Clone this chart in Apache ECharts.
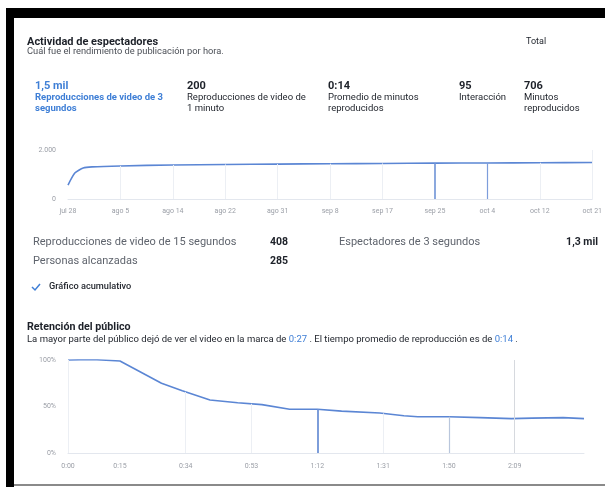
<!DOCTYPE html>
<html>
<head>
<meta charset="utf-8">
<script src="https://cdn.jsdelivr.net/npm/echarts@6/dist/echarts.min.js"></script>
<style>
html,body{margin:0;padding:0;background:#fff;}
#c{width:605px;height:487px;}
</style>
</head>
<body>
<div id="c"></div>
<script>
// ---- Chart 1: cumulative 3-second views ----
const dateLabels = ['jul 28','ago 5','ago 14','ago 22','ago 31','sep 8','sep 17','sep 25','oct 4','oct 12','oct 21'];
const viewsX = [0, 0.13, 0.29, 0.46, 1, 2, 3, 4, 5, 6, 7, 8, 9, 10];
const viewsY = [570, 1060, 1265, 1310, 1350, 1390, 1410, 1425, 1440, 1450, 1465, 1470, 1478, 1490];
const viewsMarked = [7, 8];          // dark drop lines (sep 25, oct 4)
const viewsFaint = [1, 2, 3, 4, 5, 6, 9];

// ---- Chart 2: audience retention ----
const retentionSec = [0, 7, 15, 27, 33, 41, 49, 56, 64, 72, 79, 90, 97, 101, 110, 119, 128, 134, 143, 149];
const retentionPct = [100, 100.5, 99, 75, 67, 57, 54, 52, 47, 47, 45, 43, 40, 39, 39, 38, 37, 37.5, 38, 37];
const timeTicks = [0, 15, 34, 53, 72, 91, 110, 129];
const retentionFaint = [0, 34, 53, 91];
const retentionDark = [72];
const retentionMid = [110];
const retentionCursor = [129];

// ---- header metrics ----
const metricValues = ['1,5 mil', '200', '0:14', '95', '706'];
const metricLabels = [['Reproducciones de video de 3', 'segundos'], ['Reproducciones de video de', '1 minuto'], ['Promedio de minutos', 'reproducidos'], ['Interacción', ''], ['Minutos', 'reproducidos']];
const statLabels = ['Reproducciones de video de 15 segundos', 'Personas alcanzadas', 'Espectadores de 3 segundos'];
const statValues = ['408', '285', '1,3 mil'];

function interp(xs, ys, x) {
  for (let i = 0; i < xs.length - 1; i++) {
    if (x >= xs[i] && x <= xs[i + 1]) {
      const t = (x - xs[i]) / (xs[i + 1] - xs[i]);
      return ys[i] + t * (ys[i + 1] - ys[i]);
    }
  }
  return ys[ys.length - 1];
}
function fmtSec(s) { const m = Math.floor(s / 60), r = s % 60; return m + ':' + (r < 10 ? '0' : '') + r; }

const FF = 'Roboto, "Noto Sans", sans-serif';
const BLUE = '#3f7fd6';
const LINE = '#5b86d4';
const DARK = '#1d2129';
const GRAY = '#5f646d';

function txt(text, x, y, size, color, weight, align) {
  return { type: 'text', x: x, y: y, silent: true, style: { text: text, fill: color, fontSize: size, fontWeight: weight || 'normal', fontFamily: FF, verticalAlign: 'middle', align: align || 'left' } };
}

const metricX = [35, 187, 328, 459, 524];
const graphics = [
  { type: 'rect', shape: { x: 6, y: 8, width: 599, height: 10 }, style: { fill: '#000' } },
  { type: 'rect', shape: { x: 6, y: 8, width: 8, height: 479 }, style: { fill: '#000' } },
  { type: 'rect', shape: { x: 14, y: 484, width: 591, height: 2 }, style: { fill: '#8a8a8a' } },
  txt('Actividad de espectadores', 27, 42, 11, DARK, 'bold'),
  txt('Cuál fue el rendimiento de publicación por hora.', 27, 52, 9.3, '#4b4f56'),
  txt('Total', 526, 42, 9, DARK)
];
metricValues.forEach((v, i) => {
  const c = i === 0 ? BLUE : DARK;
  graphics.push(txt(v, metricX[i], 86, 11, c, 'bold'));
  graphics.push(txt(metricLabels[i][0], metricX[i], 98, 9.5, c, i === 0 ? 'bold' : 'normal'));
  if (metricLabels[i][1]) graphics.push(txt(metricLabels[i][1], metricX[i], 109, 9.5, c, i === 0 ? 'bold' : 'normal'));
});
graphics.push(txt(statLabels[0], 33, 242, 11, GRAY));
graphics.push(txt(statLabels[1], 33, 261, 11, GRAY));
graphics.push(txt(statLabels[2], 339, 242, 11, GRAY));
graphics.push(txt(statValues[0], 270, 242, 10.5, DARK, 'bold'));
graphics.push(txt(statValues[1], 270, 261, 10.5, DARK, 'bold'));
graphics.push(txt(statValues[2], 598, 242, 10.5, DARK, 'bold', 'right'));
graphics.push({ type: 'polyline', shape: { points: [[32, 287], [35, 290], [40, 284]] }, style: { stroke: BLUE, lineWidth: 1.5, fill: null } });
graphics.push(txt('Gráfico acumulativo', 49, 287, 9.2, DARK, 500));
graphics.push(txt('Retención del público', 27, 327, 10.7, DARK, 'bold'));
graphics.push({ type: 'text', x: 27, y: 340, silent: true, style: {
  text: '{a|La mayor parte del público dejó de ver el video en la marca de }{b|0:27}{a| . El tiempo promedio de reproducción es de }{b|0:14}{a| .}',
  verticalAlign: 'middle', fontFamily: FF, fontSize: 9.5,
  rich: { a: { fill: DARK, fontSize: 9.5, fontFamily: FF }, b: { fill: BLUE, fontSize: 9.5, fontFamily: FF } }
} });

function drop(xArr, xs, ys, color, width) {
  return xArr.map(x => [{ coord: [x, 0], lineStyle: { color: color, width: width, type: 'solid' } }, { coord: [x, interp(xs, ys, x)] }]);
}

const chart = echarts.init(document.getElementById('c'), null, { renderer: 'canvas' });
chart.setOption({
  animation: false,
  backgroundColor: '#fff',
  graphic: graphics,
  grid: [
    { left: 68, right: 12, top: 150, height: 49 },
    { left: 68, right: 21, top: 360, height: 93 }
  ],
  xAxis: [
    { type: 'value', gridIndex: 0, min: 0, max: 10, interval: 1,
      axisLine: { show: true, lineStyle: { color: '#e3e7ee', width: 1 } },
      axisTick: { show: false }, splitLine: { show: false },
      axisLabel: { color: '#9a9ea6', fontSize: 7, fontFamily: FF, margin: 9, formatter: v => dateLabels[v] || '' } },
    { type: 'value', gridIndex: 1, min: 0, max: 149,
      axisLine: { show: true, lineStyle: { color: '#e3e7ee', width: 1 } },
      axisTick: { show: false }, splitLine: { show: false },
      axisLabel: { color: '#9a9ea6', fontSize: 7, fontFamily: FF, margin: 10, customValues: timeTicks, formatter: v => fmtSec(v) } }
  ],
  yAxis: [
    { type: 'value', gridIndex: 0, min: 0, max: 2000, interval: 2000,
      axisLine: { show: false }, axisTick: { show: false }, splitLine: { show: false },
      axisLabel: { color: '#9a9ea6', fontSize: 7, fontFamily: FF, margin: 12, formatter: v => v.toLocaleString('de-DE') } },
    { type: 'value', gridIndex: 1, min: 0, max: 100, interval: 50,
      axisLine: { show: false }, axisTick: { show: false }, splitLine: { show: false },
      axisLabel: { color: '#9a9ea6', fontSize: 7, fontFamily: FF, margin: 12, formatter: '{value}%' } }
  ],
  series: [
    { type: 'line', xAxisIndex: 0, yAxisIndex: 0, showSymbol: false, smooth: 0.2,
      data: viewsX.map((x, i) => [x, viewsY[i]]),
      lineStyle: { color: LINE, width: 1.6 },
      markLine: { silent: true, symbol: 'none', label: { show: false },
        data: drop(viewsFaint, viewsX, viewsY, '#eceff4', 1)
          .concat(drop([10], [10, 10.0001], [2000, 2000], '#eceff4', 1))
          .concat(drop([viewsMarked[0]], viewsX, viewsY, '#6f93d6', 1.6))
          .concat(drop([viewsMarked[1]], viewsX, viewsY, '#7d9ddb', 1.2)) } },
    { type: 'line', xAxisIndex: 1, yAxisIndex: 1, showSymbol: false,
      data: retentionSec.map((x, i) => [x, retentionPct[i]]),
      lineStyle: { color: LINE, width: 1.6 },
      markLine: { silent: true, symbol: 'none', label: { show: false },
        data: drop(retentionFaint, retentionSec, retentionPct, '#eceff4', 1)
          .concat(drop(retentionDark, retentionSec, retentionPct, '#6f93d6', 1.8))
          .concat(drop(retentionMid, retentionSec, retentionPct, '#b9c6dc', 1.2))
          .concat(drop(retentionCursor, [129, 129.0001], [100, 100], '#d6d9de', 1)) } }
  ]
});
</script>
</body>
</html>
